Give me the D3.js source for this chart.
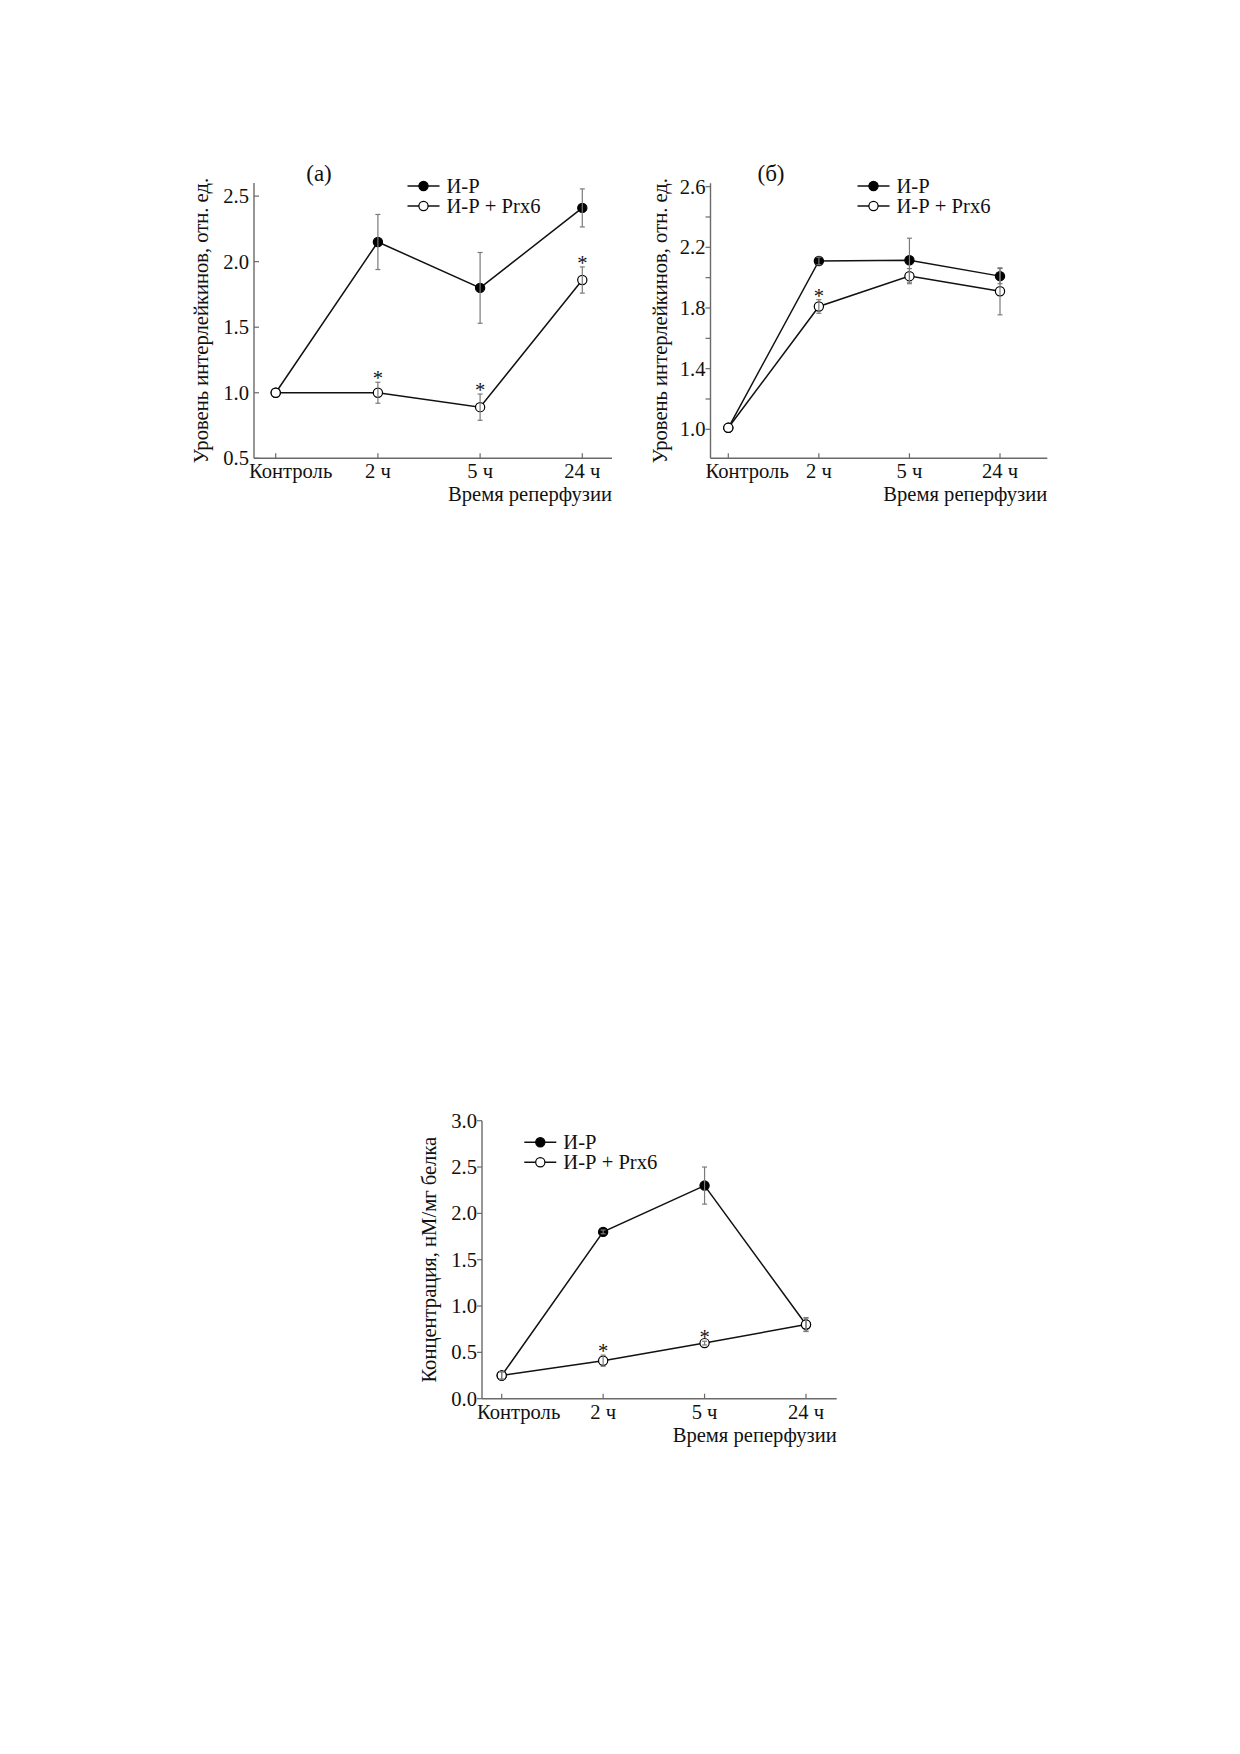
<!DOCTYPE html>
<html>
<head>
<meta charset="utf-8">
<script src="https://cdn.jsdelivr.net/npm/d3@7"></script>
<style>
  body { margin: 0; background: #fff; }
  svg text { font-family: "Liberation Serif", "Times New Roman", serif; fill: #111; }
</style>
</head>
<body>
<svg id="page" width="1240" height="1754"></svg>
<script>
// Time points (shared x categories)
const timePoints = ["Контроль", "2 ч", "5 ч", "24 ч"];
const seriesNames = ["И-Р", "И-Р + Prx6"];

// Panel (a) – interleukins
const ilA_ip = [1.0, 2.15, 1.8, 2.41];
const ilA_ipErr = [0, 0.21, 0.27, 0.145];
const ilA_prx = [1.0, 1.0, 0.89, 1.86];
const ilA_prxErr = [0, 0.08, 0.1, 0.1];
const ilA_star = [false, true, true, true];
const ilA_ticks = [0.5, 1.0, 1.5, 2.0, 2.5];

// Panel (б) – interleukins
const ilB_ip = [1.01, 2.11, 2.115, 2.01];
const ilB_ipErr = [0, 0.025, 0.145, 0.05];
const ilB_prx = [1.01, 1.81, 2.01, 1.91];
const ilB_prxErr = [0, 0.045, 0.05, 0.155];
const ilB_star = [false, true, false, false];
const ilB_ticks = [1.0, 1.2, 1.4, 1.6, 1.8, 2.0, 2.2, 2.4, 2.6];
const ilB_labeled = [1.0, 1.4, 1.8, 2.2, 2.6];

// Bottom panel – concentration
const conc_ip = [0.25, 1.8, 2.3, 0.8];
const conc_ipErr = [0.04, 0.02, 0.2, 0.07];
const conc_prx = [0.25, 0.41, 0.6, 0.8];
const conc_prxErr = [0.04, 0.06, 0.02, 0.075];
const conc_star = [false, true, true, false];
const conc_ticks = [0.0, 0.5, 1.0, 1.5, 2.0, 2.5, 3.0];

const svg = d3.select("#page");
svg.append("rect").attr("width", 1240).attr("height", 1754).attr("fill", "#fff");

const AXIS = "#6a6a6a";
const ERR = "#7a7a7a";
const FS = 20.6;
const R = 4.6; // marker radius

function drawPanel(cfg) {
  const g = svg.append("g");

  const x = d3.scalePoint().domain(timePoints).range(cfg.xRange);
  const y = d3.scaleLinear().domain(cfg.yDomain).range([cfg.bottom, cfg.top]);

  // axes lines
  g.append("line")
    .attr("x1", cfg.left).attr("x2", cfg.left)
    .attr("y1", cfg.bottom).attr("y2", cfg.top)
    .attr("stroke", AXIS).attr("stroke-width", 1.4);
  g.append("line")
    .attr("x1", cfg.left).attr("x2", cfg.right)
    .attr("y1", cfg.bottom).attr("y2", cfg.bottom)
    .attr("stroke", AXIS).attr("stroke-width", 1.4);

  // y ticks
  const tickDir = cfg.yTickIn ? 1 : -1;
  g.selectAll(".yt").data(cfg.yTicks).join("line")
    .attr("x1", cfg.left).attr("x2", cfg.left + tickDir * 5)
    .attr("y1", (d) => y(d)).attr("y2", (d) => y(d))
    .attr("stroke", AXIS).attr("stroke-width", 1.2);
  g.selectAll(".yl").data(cfg.yLabeled).join("text")
    .attr("x", cfg.left - 5)
    .attr("y", (d) => y(d) + 7)
    .attr("text-anchor", "end")
    .attr("font-size", FS)
    .text((d) => d3.format(".1f")(d));

  // x ticks (pointing up, into the plot)
  g.selectAll(".xt").data(timePoints).join("line")
    .attr("x1", (d) => x(d)).attr("x2", (d) => x(d))
    .attr("y1", cfg.bottom).attr("y2", cfg.bottom - 5)
    .attr("stroke", AXIS).attr("stroke-width", 1.2);
  // first label starts just left of the y axis, others centred on the tick
  g.selectAll(".xl").data(timePoints).join("text")
    .attr("x", (d, i) => (i === 0 ? cfg.left - 5 : x(d)))
    .attr("y", cfg.bottom + 20)
    .attr("text-anchor", (d, i) => (i === 0 ? "start" : "middle"))
    .attr("font-size", FS)
    .text((d) => d);

  // axis titles
  g.append("text")
    .attr("x", cfg.right)
    .attr("y", cfg.bottom + 43)
    .attr("text-anchor", "end")
    .attr("font-size", FS)
    .text("Время реперфузии");
  g.append("text")
    .attr("transform", `translate(${cfg.yLabelX},${(cfg.top + cfg.bottom) / 2}) rotate(-90)`)
    .attr("text-anchor", "middle")
    .attr("font-size", FS)
    .text(cfg.yTitle);

  if (cfg.title) {
    g.append("text")
      .attr("x", cfg.titleX).attr("y", cfg.titleY)
      .attr("text-anchor", "middle")
      .attr("font-size", 23)
      .text(cfg.title);
  }

  // series
  const series = [
    { vals: cfg.ip, err: cfg.ipErr, filled: true },
    { vals: cfg.prx, err: cfg.prxErr, filled: false },
  ];
  const line = d3.line().x((d, i) => x(timePoints[i])).y((d) => y(d));

  series.forEach((s) => {
    g.append("path")
      .attr("d", line(s.vals))
      .attr("fill", "none")
      .attr("stroke", "#111")
      .attr("stroke-width", 1.5);
  });

  series.forEach((s) => {
    g.selectAll(null).data(s.vals).join("circle")
      .attr("cx", (d, i) => x(timePoints[i]))
      .attr("cy", (d) => y(d))
      .attr("r", R)
      .attr("fill", s.filled ? "#000" : "#fff")
      .attr("stroke", "#000")
      .attr("stroke-width", 1.2);
  });

  // error bars on top
  series.forEach((s) => {
    const eb = g.selectAll(null).data(s.vals.map((v, i) => ({ v, e: s.err[i], t: timePoints[i] })).filter((d) => d.e > 0))
      .join("g");
    eb.append("line")
      .attr("x1", (d) => x(d.t)).attr("x2", (d) => x(d.t))
      .attr("y1", (d) => y(d.v - d.e)).attr("y2", (d) => y(d.v + d.e))
      .attr("stroke", ERR).attr("stroke-width", 1.2);
    [1, -1].forEach((sg) => {
      eb.append("line")
        .attr("x1", (d) => x(d.t) - 2.5).attr("x2", (d) => x(d.t) + 2.5)
        .attr("y1", (d) => y(d.v + sg * d.e)).attr("y2", (d) => y(d.v + sg * d.e))
        .attr("stroke", ERR).attr("stroke-width", 1.2);
    });
  });

  // significance stars above open markers
  g.selectAll(".star").data(cfg.prx.map((v, i) => ({ v, e: cfg.prxErr[i], t: timePoints[i], s: cfg.star[i] })).filter((d) => d.s))
    .join("text")
    .attr("x", (d) => x(d.t))
    .attr("y", (d) => y(d.v + d.e) + 3)
    .attr("text-anchor", "middle")
    .attr("font-size", FS)
    .text("*");

  // legend
  const lg = g.append("g");
  seriesNames.forEach((name, i) => {
    const ly = cfg.legY + i * 20;
    lg.append("line")
      .attr("x1", cfg.legX).attr("x2", cfg.legX + 32)
      .attr("y1", ly).attr("y2", ly)
      .attr("stroke", "#111").attr("stroke-width", 1.5);
    lg.append("circle")
      .attr("cx", cfg.legX + 16).attr("cy", ly).attr("r", R)
      .attr("fill", i === 0 ? "#000" : "#fff")
      .attr("stroke", "#000").attr("stroke-width", 1.2);
    lg.append("text")
      .attr("x", cfg.legX + 39).attr("y", ly + 7)
      .attr("font-size", FS)
      .text(name);
  });
}

drawPanel({
  left: 254, right: 612, top: 183, bottom: 458.3,
  xRange: [275.7, 582.3], yDomain: [0.5, 2.6],
  yTicks: ilA_ticks, yLabeled: ilA_ticks, yTickIn: true,
  yTitle: "Уровень интерлейкинов, отн. ед.", yLabelX: 208,
  title: "(a)", titleX: 319, titleY: 181,
  ip: ilA_ip, ipErr: ilA_ipErr, prx: ilA_prx, prxErr: ilA_prxErr, star: ilA_star,
  legX: 407.5, legY: 186,
});

drawPanel({
  left: 710.5, right: 1047.3, top: 183.3, bottom: 458.3,
  xRange: [728.3, 1000], yDomain: [0.809, 2.622],
  yTicks: ilB_ticks, yLabeled: ilB_labeled, yTickIn: false,
  yTitle: "Уровень интерлейкинов, отн. ед.", yLabelX: 667,
  title: "(б)", titleX: 771, titleY: 181,
  ip: ilB_ip, ipErr: ilB_ipErr, prx: ilB_prx, prxErr: ilB_prxErr, star: ilB_star,
  legX: 857.5, legY: 186,
});

drawPanel({
  left: 482, right: 836.7, top: 1120.7, bottom: 1398.7,
  xRange: [501.7, 806], yDomain: [0, 3],
  yTicks: conc_ticks, yLabeled: conc_ticks, yTickIn: false,
  yTitle: "Концентрация, нМ/мг белка", yLabelX: 436,
  title: null,
  ip: conc_ip, ipErr: conc_ipErr, prx: conc_prx, prxErr: conc_prxErr, star: conc_star,
  legX: 524.3, legY: 1142.3,
});
</script>
</body>
</html>
